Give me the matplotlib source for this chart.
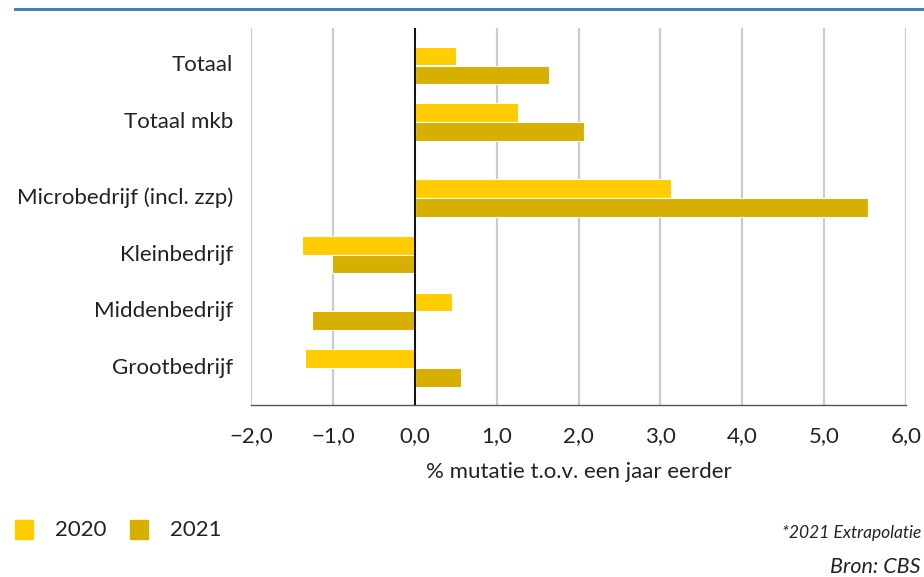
import matplotlib
matplotlib.use("Agg")
import matplotlib.pyplot as plt
import numpy as np
from matplotlib.lines import Line2D
from matplotlib.patches import Rectangle

plt.rcParams['font.family'] = ['Lato', 'DejaVu Sans']

categories = ["Totaal", "Totaal mkb", "Microbedrijf (incl. zzp)",
              "Kleinbedrijf", "Middenbedrijf", "Grootbedrijf"]
values_2020 = [0.50, 1.26, 3.13, -1.38, 0.46, -1.34]
values_2021 = [1.64, 2.07, 5.53, -1.01, -1.26, 0.57]
series_labels = ["2020", "2021"]
x_ticks = [-2, -1, 0, 1, 2, 3, 4, 5, 6]
x_tick_labels = ["\u22122,0", "\u22121,0", "0,0", "1,0", "2,0", "3,0", "4,0", "5,0", "6,0"]

col_2020 = "#FFCC00"
col_2021 = "#D7AF00"

fig = plt.figure(figsize=(9.24, 5.77), dpi=100)
ax = fig.add_axes([251/924, 1-405/577, (906-251)/924, (405-28)/577])

# category positions: an extra gap separates the totals from the size classes
pos = np.arange(len(categories), dtype=float)
pos[2:] += 1/3
bh = 0.33
off = 0.167
ax.barh(pos - off, values_2020, height=bh, color=col_2020, edgecolor="white", linewidth=0.8, zorder=3)
ax.barh(pos + off, values_2021, height=bh, color=col_2021, edgecolor="white", linewidth=0.8, zorder=3)

ax.set_xlim(-2, 6)
ax.set_ylim(pos[-1] + 0.65, pos[0] - 0.66)
ax.set_xticks(x_ticks)
ax.set_xticklabels(x_tick_labels, fontsize=16, color="#222222")
ax.set_yticks(pos)
ax.set_yticklabels(categories, fontsize=16, color="#222222", va="bottom")
for t in ax.get_yticklabels():
    t.set_va("center")
ax.tick_params(axis="x", length=0, pad=15)
ax.tick_params(axis="y", length=0, pad=13)

ax.grid(axis="x", color="#cccccc", linewidth=1.6, zorder=0)
ax.axvline(0, color="black", linewidth=1.3, zorder=4)
for s in ["top", "right", "left"]:
    ax.spines[s].set_visible(False)
ax.spines["bottom"].set_color("#555555")
ax.spines["bottom"].set_linewidth(1.0)

ax.set_xlabel("% mutatie t.o.v. een jaar eerder", fontsize=16, color="#222222", labelpad=12)

# top rule
fig.add_artist(Line2D([15/924, 1], [1-8.5/577, 1-8.5/577], color="#4a7ebb", linewidth=2.2))

# legend
for i, (lab, col) in enumerate(zip(series_labels, [col_2020, col_2021])):
    x0 = (15 + i*115)/924
    fig.add_artist(Rectangle((x0, 1-539/577), 18/924, 19/577, color=col, transform=fig.transFigure))
    fig.text(x0 + 40/924, 1-530/577, lab, fontsize=16, color="#222222", va="center", ha="left")

fig.text(921/924, 1-533/577, "*2021 Extrapolatie", fontsize=12.5, style="italic",
         color="#222222", ha="right", va="center")
fig.text(921/924, 1-567/577, "Bron: CBS", fontsize=15.5, style="italic",
         color="#222222", ha="right", va="center")

fig.savefig("out.png", dpi=100)
